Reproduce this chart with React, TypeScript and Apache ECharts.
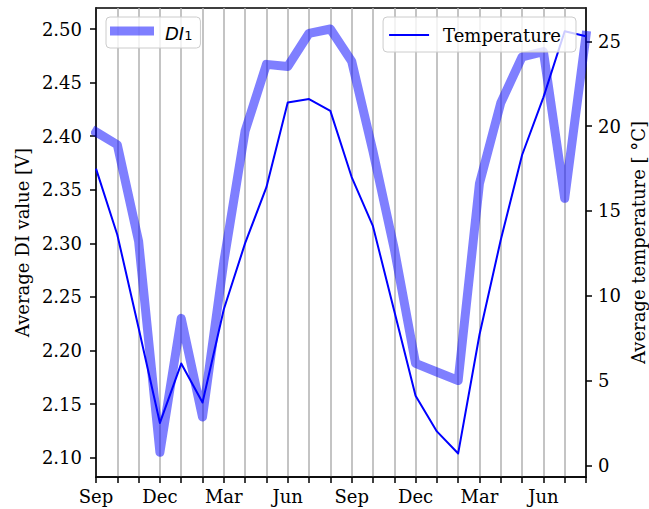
import React, { useEffect, useRef } from "react";
import * as echarts from "echarts";

const months = [
  "Sep", "Oct", "Nov", "Dec", "Jan", "Feb", "Mar", "Apr", "May", "Jun", "Jul", "Aug",
  "Sep", "Oct", "Nov", "Dec", "Jan", "Feb", "Mar", "Apr", "May", "Jun", "Jul", "Aug",
];
const di1 = [
  2.404, 2.392, 2.302, 2.105, 2.23, 2.138, 2.283, 2.405, 2.467, 2.465, 2.496, 2.5,
  2.47, 2.386, 2.295, 2.188, 2.18, 2.172, 2.356, 2.431, 2.474, 2.479, 2.342, 2.494,
];
const temperature = [
  17.5, 13.6, 8.1, 2.5, 6.0, 3.7, 9.2, 13.1, 16.4, 21.4, 21.6, 20.9,
  17.0, 14.1, 9.1, 4.1, 2.0, 0.7, 7.7, 13.3, 18.3, 21.7, 25.6, 25.3,
];
const diTicks = [2.1, 2.15, 2.2, 2.25, 2.3, 2.35, 2.4, 2.45, 2.5];
const tempTicks = [0, 5, 10, 15, 20, 25];

const SERIF = "DejaVu Serif";

export default function App() {
  const ref = useRef<HTMLDivElement>(null);
  useEffect(() => {
    document.body.style.margin = "0";
    if (!ref.current) return;
    const chart = echarts.init(ref.current, undefined, { renderer: "svg" });
    const axisLineStyle = { color: "#000", width: 1.5 };
    chart.setOption({
      animation: false,
      backgroundColor: "#fff",
      grid: {
        left: 96,
        right: 63,
        top: 8,
        bottom: 32,
        containLabel: false,
        outerBoundsMode: "none",
        show: true,
        borderColor: "#000",
        borderWidth: 1.5,
        backgroundColor: "transparent",
      },
      legend: [
        {
          data: ["DI1"],
          left: 106,
          top: 17,
          icon: "rect",
          itemWidth: 44,
          itemHeight: 9,
          padding: [7, 8, 6, 4],
          backgroundColor: "rgba(255,255,255,0.8)",
          borderColor: "#cccccc",
          borderWidth: 1,
          borderRadius: 4,
          selectedMode: false,
          formatter: "{i|DI}{s|1}",
          textStyle: {
            padding: [0, 0, 0, 6],
            rich: {
              i: {
                fontFamily: "DejaVu Sans",
                fontStyle: "italic",
                fontSize: 18,
                color: "#000",
                lineHeight: 22,
                verticalAlign: "bottom",
              },
              s: {
                fontFamily: "DejaVu Sans",
                fontSize: 13,
                color: "#000",
                lineHeight: 8,
                verticalAlign: "bottom",
              },
            },
          },
        },
        {
          data: ["Temperature"],
          right: 73,
          top: 17,
          icon: "rect",
          itemWidth: 40,
          itemHeight: 2,
          padding: [7, 15, 6, 6],
          backgroundColor: "rgba(255,255,255,0.8)",
          borderColor: "#cccccc",
          borderWidth: 1,
          borderRadius: 4,
          selectedMode: false,
          textStyle: {
            fontFamily: SERIF,
            fontSize: 18,
            color: "#000",
            lineHeight: 22,
            padding: [0, 0, 0, 9],
          },
        },
      ],
      xAxis: {
        type: "category",
        data: months,
        boundaryGap: false,
        axisLine: { show: true, onZero: false, lineStyle: axisLineStyle },
        axisTick: { show: true, interval: 0, length: 6, lineStyle: axisLineStyle },
        axisLabel: {
          interval: 2,
          fontFamily: SERIF,
          fontSize: 18,
          color: "#000",
          margin: 10,
        },
        splitLine: {
          show: true,
          interval: 0,
          lineStyle: { color: "#b0b0b0", width: 1.5 },
        },
      },
      yAxis: [
        {
          type: "value",
          position: "left",
          min: 2.082,
          max: 2.5196,
          name: "Average DI value [V]",
          nameLocation: "middle",
          nameGap: 64,
          nameTextStyle: { fontFamily: SERIF, fontSize: 18, color: "#000" },
          axisLine: { show: true, onZero: false, lineStyle: axisLineStyle },
          axisTick: { show: true, length: 6, lineStyle: axisLineStyle, customValues: diTicks },
          axisLabel: {
            fontFamily: SERIF,
            fontSize: 18,
            color: "#000",
            margin: 14,
            customValues: diTicks,
            formatter: (v: number) => v.toFixed(2),
          },
          splitLine: { show: false },
        },
        {
          type: "value",
          position: "right",
          min: -0.69,
          max: 26.97,
          name: "Average temperature [ °C]",
          nameLocation: "middle",
          nameGap: 43,
          nameMoveOverlap: false,
          nameTextStyle: { fontFamily: SERIF, fontSize: 18, color: "#000" },
          axisLine: { show: true, onZero: false, lineStyle: axisLineStyle },
          axisTick: { show: true, length: 6, lineStyle: axisLineStyle, customValues: tempTicks },
          axisLabel: {
            fontFamily: SERIF,
            fontSize: 18,
            color: "#000",
            margin: 12,
            customValues: tempTicks,
            formatter: (v: number) => String(v),
          },
          splitLine: { show: false },
        },
      ],
      series: [
        {
          name: "DI1",
          type: "line",
          yAxisIndex: 0,
          data: di1,
          symbol: "none",
          showSymbol: false,
          lineStyle: { color: "rgba(0,0,255,0.5)", width: 9, join: "round", cap: "square" },
          itemStyle: { color: "rgba(0,0,255,0.5)" },
          z: 2,
        },
        {
          name: "Temperature",
          type: "line",
          yAxisIndex: 1,
          data: temperature,
          symbol: "none",
          showSymbol: false,
          lineStyle: { color: "#0000ff", width: 2, join: "round" },
          itemStyle: { color: "#0000ff" },
          z: 3,
        },
      ],
    });
    return () => chart.dispose();
  }, []);
  return <div ref={ref} style={{ width: 649, height: 509 }} />;
}
